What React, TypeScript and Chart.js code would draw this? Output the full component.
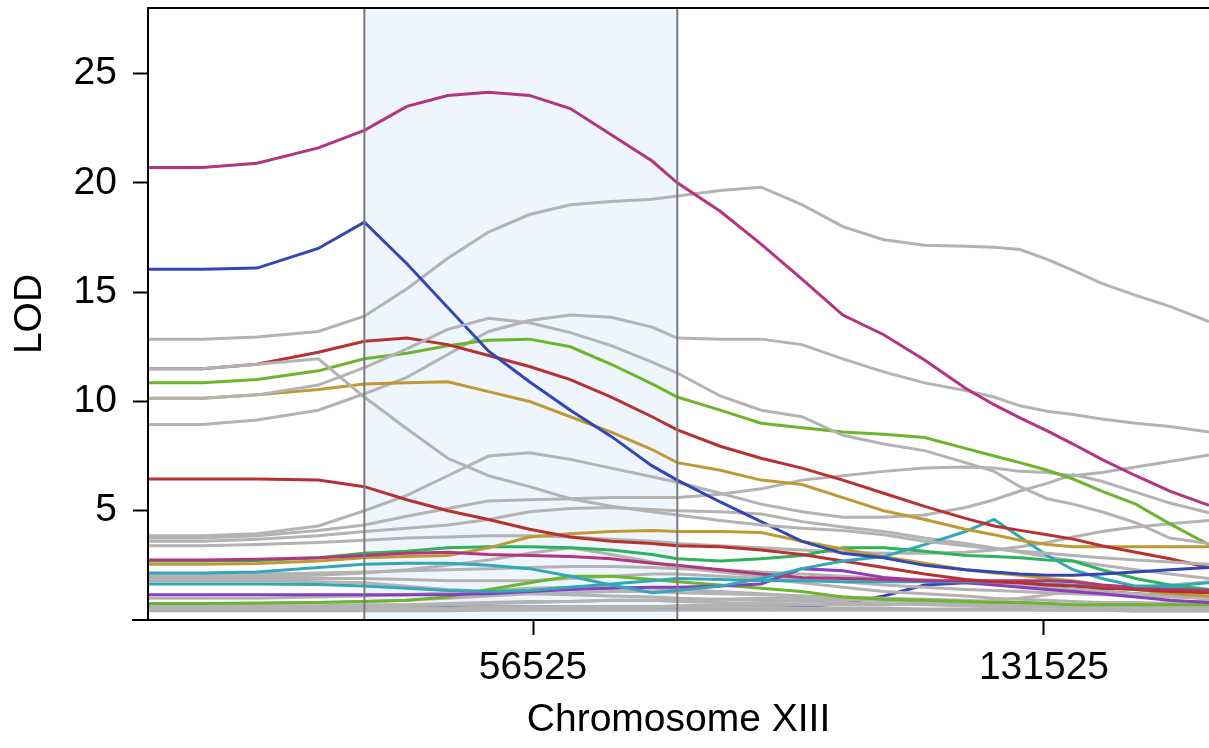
import React, { useEffect, useRef } from "react";
import { Chart, registerables } from "chart.js";

Chart.register(...registerables);

// ---- axis / layout data ----
const xMin = 0;
const xMax = 155750;
const yMin = 0;
const yMax = 28;
const xTicks = [56525, 131525];
const yTicks = [5, 10, 15, 20, 25];
const xLabel = "Chromosome XIII";
const yLabel = "LOD";
const shadeStart = 31760;
const shadeEnd = 77700;

// ---- marker positions (bp) ----
const positions = [0, 8000, 16000, 25000, 31760, 38000, 44000, 50000, 56000, 62000, 68000, 74000, 77700, 84000, 90000, 96000, 102000, 108000, 114000, 120000, 124200, 128000, 132000, 135800, 140000, 145000, 150000, 155750];

// ---- coloured LOD curves ----
const magentaHigh = [20.7, 20.7, 20.9, 21.6, 22.4, 23.5, 24.0, 24.15, 24.0, 23.4, 22.2, 21.0, 20.0, 18.7, 17.2, 15.6, 13.95, 13.05, 11.9, 10.6, 9.85, 9.25, 8.65, 8.05, 7.35, 6.6, 5.9, 5.25];
const blueHigh = [16.05, 16.05, 16.1, 17.0, 18.2, 16.3, 14.3, 12.3, 10.9, 9.6, 8.4, 7.05, 6.4, 5.4, 4.5, 3.6, 3.05, 2.85, 2.5, 2.3, 2.2, 2.1, 2.05, 2.05, 2.1, 2.2, 2.3, 2.4];
const redHigh = [11.5, 11.5, 11.7, 12.25, 12.75, 12.9, 12.6, 12.1, 11.6, 11.0, 10.2, 9.3, 8.7, 7.95, 7.4, 6.95, 6.4, 5.8, 5.2, 4.65, 4.3, 4.1, 3.9, 3.7, 3.4, 3.1, 2.8, 2.4];
const limeHigh = [10.85, 10.85, 11.0, 11.4, 11.95, 12.2, 12.55, 12.8, 12.85, 12.5, 11.7, 10.8, 10.2, 9.6, 9.0, 8.8, 8.6, 8.5, 8.35, 7.85, 7.5, 7.2, 6.85, 6.45, 5.9, 5.3, 4.4, 3.45];
const goldHigh = [10.15, 10.15, 10.3, 10.55, 10.8, 10.85, 10.9, 10.45, 10.0, 9.3, 8.6, 7.8, 7.2, 6.85, 6.4, 6.2, 5.6, 5.0, 4.6, 4.15, 3.9, 3.65, 3.45, 3.35, 3.35, 3.35, 3.35, 3.35];
const redLow = [6.45, 6.45, 6.45, 6.4, 6.1, 5.5, 5.0, 4.6, 4.15, 3.8, 3.6, 3.5, 3.4, 3.35, 3.2, 3.0, 2.7, 2.4, 2.1, 1.85, 1.75, 1.7, 1.6, 1.55, 1.45, 1.4, 1.3, 1.25];
const magentaLow = [2.75, 2.75, 2.78, 2.85, 2.95, 3.05, 3.1, 3.0, 2.95, 2.9, 2.8, 2.6, 2.5, 2.3, 2.1, 1.95, 1.9, 1.85, 1.8, 1.8, 1.8, 1.8, 1.8, 1.75, 1.6, 1.5, 1.4, 1.35];
const goldLow = [2.55, 2.55, 2.58, 2.7, 2.85, 2.9, 2.95, 3.3, 3.8, 3.95, 4.05, 4.1, 4.05, 4.05, 4.0, 3.6, 3.25, 2.9, 2.6, 2.3, 2.15, 2.05, 1.9, 1.8, 1.6, 1.4, 1.2, 1.1];
const emerald = [2.7, 2.7, 2.72, 2.85, 3.05, 3.15, 3.3, 3.35, 3.35, 3.3, 3.2, 3.0, 2.8, 2.7, 2.8, 2.95, 3.3, 3.3, 3.15, 2.95, 2.9, 2.85, 2.75, 2.7, 2.3, 1.9, 1.6, 1.4];
const tealHigh = [2.15, 2.15, 2.2, 2.4, 2.55, 2.6, 2.6, 2.5, 2.35, 2.0, 1.6, 1.25, 1.35, 1.55, 1.9, 2.35, 2.7, 2.9, 3.45, 4.05, 4.6, 3.8, 2.95, 2.3, 1.9, 1.55, 1.55, 1.7];
const tealLow = [1.65, 1.65, 1.65, 1.62, 1.55, 1.45, 1.35, 1.3, 1.35, 1.5, 1.65, 1.8, 1.9, 1.85, 1.8, 1.8, 1.75, 1.75, 1.75, 1.75, 1.75, 1.7, 1.65, 1.6, 1.55, 1.5, 1.45, 1.4];
const purple = [1.15, 1.15, 1.15, 1.15, 1.15, 1.15, 1.15, 1.2, 1.3, 1.4, 1.45, 1.5, 1.5, 1.55, 1.65, 2.35, 2.25, 1.95, 1.8, 1.7, 1.6, 1.5, 1.4, 1.3, 1.2, 1.05, 0.9, 0.8];
const limeLow = [0.75, 0.75, 0.78, 0.8, 0.85, 0.9, 1.05, 1.4, 1.7, 2.0, 2.0, 1.85, 1.75, 1.6, 1.45, 1.3, 1.05, 0.95, 0.9, 0.85, 0.8, 0.8, 0.75, 0.7, 0.7, 0.7, 0.7, 0.7];
const blueLow = [0.6, 0.6, 0.6, 0.6, 0.6, 0.6, 0.6, 0.6, 0.6, 0.6, 0.6, 0.6, 0.6, 0.6, 0.6, 0.6, 0.75, 1.1, 1.6, 1.7, 1.7, 1.6, 1.5, 1.4, 1.3, 1.2, 1.1, 1.0];

// ---- grey (non-highlighted) LOD curves ----
const grayA = [12.85, 12.85, 12.95, 13.2, 13.9, 15.15, 16.55, 17.75, 18.55, 19.0, 19.15, 19.25, 19.4, 19.65, 19.8, 19.0, 18.0, 17.4, 17.15, 17.1, 17.05, 16.95, 16.5, 16.0, 15.4, 14.85, 14.35, 13.65];
const grayB = [11.5, 11.5, 11.7, 11.95, 10.2, 8.75, 7.4, 6.6, 6.1, 5.55, 5.2, 4.95, 4.8, 4.55, 4.35, 4.2, 4.1, 3.9, 3.6, 3.4, 3.25, 3.15, 3.05, 2.95, 2.85, 2.75, 2.65, 2.55];
const grayC = [10.15, 10.15, 10.3, 10.75, 11.55, 12.4, 13.3, 13.8, 13.6, 13.15, 12.55, 11.8, 11.3, 10.25, 9.6, 9.3, 8.45, 8.05, 7.75, 7.2, 6.8, 6.1, 5.55, 5.3, 4.95, 4.45, 3.75, 3.5];
const grayD = [8.95, 8.95, 9.15, 9.6, 10.35, 11.1, 12.15, 13.2, 13.7, 13.95, 13.85, 13.4, 12.9, 12.85, 12.85, 12.6, 11.95, 11.35, 10.85, 10.5, 10.2, 9.8, 9.55, 9.4, 9.2, 9.0, 8.85, 8.6];
const grayE = [3.85, 3.85, 3.95, 4.3, 5.0, 5.7, 6.6, 7.5, 7.65, 7.35, 6.95, 6.55, 6.3, 5.8, 5.3, 4.95, 4.7, 4.7, 4.8, 5.15, 5.5, 5.9, 6.25, 6.65, 6.35, 5.85, 5.35, 4.9];
const grayF = [3.75, 3.75, 3.85, 4.1, 4.35, 4.75, 5.1, 5.45, 5.5, 5.55, 5.6, 5.6, 5.6, 5.75, 6.0, 6.4, 6.6, 6.8, 6.95, 7.0, 6.95, 6.8, 6.75, 6.6, 6.75, 7.0, 7.25, 7.55];
const grayG = [3.4, 3.4, 3.45, 3.55, 3.65, 3.75, 3.8, 3.85, 3.85, 3.8, 3.7, 3.6, 3.5, 3.4, 3.3, 3.2, 3.1, 3.05, 3.05, 3.1, 3.2, 3.35, 3.55, 3.8, 4.05, 4.25, 4.4, 4.55];
const grayH = [3.6, 3.6, 3.7, 3.85, 4.05, 4.2, 4.35, 4.6, 4.95, 5.1, 5.15, 5.05, 5.0, 4.95, 4.85, 4.5, 4.25, 4.05, 3.75, 3.5, 3.3, 3.1, 2.9, 2.7, 2.5, 2.3, 2.1, 1.9];
const grayI = [2.0, 2.0, 2.0, 2.05, 2.15, 2.3, 2.5, 2.75, 3.05, 3.3, 3.0, 2.65, 2.4, 2.2, 2.0, 1.85, 1.75, 1.6, 1.5, 1.4, 1.35, 1.3, 1.25, 1.2, 1.15, 1.1, 1.05, 1.0];
const grayJ = [2.1, 2.1, 2.1, 2.15, 2.2, 2.25, 2.3, 2.35, 2.4, 2.45, 2.45, 2.4, 2.35, 2.3, 2.2, 2.1, 2.0, 1.9, 1.85, 1.75, 1.65, 1.6, 1.5, 1.4, 1.3, 1.2, 1.1, 1.0];
const grayK = [1.9, 1.9, 1.9, 1.9, 1.9, 1.85, 1.8, 1.8, 1.8, 1.9, 2.0, 2.1, 2.1, 2.0, 1.9, 1.7, 1.5, 1.3, 1.2, 1.1, 1.0, 0.95, 0.9, 0.85, 0.8, 0.8, 0.75, 0.75];
const grayL = [1.8, 1.8, 1.8, 1.75, 1.7, 1.55, 1.4, 1.3, 1.2, 1.15, 1.1, 1.05, 1.0, 0.95, 0.9, 0.85, 0.8, 0.75, 0.7, 0.65, 0.6, 0.6, 0.6, 0.55, 0.55, 0.5, 0.5, 0.5];
const grayM = [0.75, 0.75, 0.75, 0.8, 0.85, 0.9, 1.0, 1.1, 1.2, 1.25, 1.3, 1.3, 1.25, 1.2, 1.15, 1.1, 1.05, 1.0, 0.95, 0.9, 0.85, 0.8, 0.75, 0.7, 0.7, 0.65, 0.65, 0.6];
const grayN = [0.6, 0.6, 0.6, 0.6, 0.6, 0.65, 0.7, 0.75, 0.8, 0.85, 0.9, 0.9, 0.9, 0.95, 1.0, 1.0, 0.95, 0.9, 0.85, 0.8, 0.75, 0.7, 0.65, 0.6, 0.55, 0.5, 0.5, 0.45];
const grayO = [0.5, 0.5, 0.5, 0.5, 0.5, 0.5, 0.5, 0.55, 0.55, 0.6, 0.6, 0.6, 0.65, 0.7, 0.8, 0.9, 0.95, 0.9, 0.8, 0.7, 0.65, 0.6, 0.6, 0.6, 0.65, 0.7, 0.8, 0.9];
const grayP = [0.42, 0.42, 0.42, 0.42, 0.42, 0.42, 0.42, 0.45, 0.45, 0.45, 0.45, 0.45, 0.45, 0.45, 0.45, 0.45, 0.45, 0.45, 0.45, 0.45, 0.45, 0.45, 0.45, 0.45, 0.45, 0.45, 0.45, 0.45];
const grayQ = [0.65, 0.65, 0.65, 0.65, 0.7, 0.7, 0.75, 0.8, 0.85, 0.85, 0.9, 0.9, 0.85, 0.8, 0.75, 0.7, 0.7, 0.7, 0.75, 0.8, 0.9, 1.0, 1.15, 1.3, 1.4, 1.5, 1.6, 1.75];
const grayR = [1.0, 1.0, 1.0, 1.05, 1.1, 1.15, 1.25, 1.35, 1.45, 1.5, 1.5, 1.45, 1.4, 1.3, 1.2, 1.1, 1.0, 0.95, 0.9, 0.85, 0.8, 0.75, 0.7, 0.65, 0.6, 0.6, 0.55, 0.55];
const grayS = [0.55, 0.55, 0.55, 0.55, 0.55, 0.55, 0.55, 0.6, 0.6, 0.6, 0.6, 0.6, 0.6, 0.6, 0.6, 0.55, 0.55, 0.55, 0.5, 0.5, 0.5, 0.5, 0.45, 0.45, 0.45, 0.4, 0.4, 0.4];

// ---- styles ----
const GREY = "#B3B3B3";
const FONT = "'Liberation Sans', Arial, Helvetica, sans-serif";
const FONT_SIZE = 39;
const LINE_W = 3;

type Series = { label: string; values: number[]; color: string; order: number };

const seriesList: Series[] = [
  { label: "grayB", values: grayB, color: GREY, order: 0 },
  { label: "grayC", values: grayC, color: GREY, order: 0 },
  { label: "magentaHigh", values: magentaHigh, color: "#B3357F", order: 1 },
  { label: "blueHigh", values: blueHigh, color: "#3446B4", order: 1 },
  { label: "redHigh", values: redHigh, color: "#B73131", order: 1 },
  { label: "limeHigh", values: limeHigh, color: "#6CB52D", order: 1 },
  { label: "goldHigh", values: goldHigh, color: "#BE9A35", order: 1 },
  { label: "tealHigh", values: tealHigh, color: "#31A7B7", order: 1 },
  { label: "redLow", values: redLow, color: "#B73131", order: 1 },
  { label: "magentaLow", values: magentaLow, color: "#B3357F", order: 1 },
  { label: "goldLow", values: goldLow, color: "#BE9A35", order: 1 },
  { label: "emerald", values: emerald, color: "#2FB25C", order: 1 },
  { label: "tealLow", values: tealLow, color: "#31A7B7", order: 1 },
  { label: "purple", values: purple, color: "#8A3DBD", order: 1 },
  { label: "limeLow", values: limeLow, color: "#6CB52D", order: 1 },
  { label: "grayA", values: grayA, color: GREY, order: 2 },
  { label: "grayD", values: grayD, color: GREY, order: 2 },
  { label: "grayE", values: grayE, color: GREY, order: 2 },
  { label: "grayF", values: grayF, color: GREY, order: 2 },
  { label: "grayG", values: grayG, color: GREY, order: 2 },
  { label: "grayH", values: grayH, color: GREY, order: 2 },
  { label: "grayI", values: grayI, color: GREY, order: 2 },
  { label: "grayJ", values: grayJ, color: GREY, order: 2 },
  { label: "grayK", values: grayK, color: GREY, order: 2 },
  { label: "grayL", values: grayL, color: GREY, order: 2 },
  { label: "grayM", values: grayM, color: GREY, order: 2 },
  { label: "grayN", values: grayN, color: GREY, order: 2 },
  { label: "grayO", values: grayO, color: GREY, order: 2 },
  { label: "grayP", values: grayP, color: GREY, order: 2 },
  { label: "grayQ", values: grayQ, color: GREY, order: 2 },
  { label: "grayR", values: grayR, color: GREY, order: 2 },
  { label: "grayS", values: grayS, color: GREY, order: 2 },
  { label: "blueLow", values: blueLow, color: "#3446B4", order: 3 },
];

const framePlugin = {
  id: "qtlFrame",
  beforeDatasetsDraw(chart: any) {
    const { ctx, chartArea, scales } = chart;
    const x1 = scales.x.getPixelForValue(shadeStart);
    const x2 = scales.x.getPixelForValue(shadeEnd);
    ctx.save();
    ctx.fillStyle = "#EEF5FD";
    ctx.fillRect(x1, chartArea.top, x2 - x1, chartArea.bottom - chartArea.top);
    ctx.restore();
  },
  afterDatasetsDraw(chart: any) {
    const { ctx, chartArea, scales } = chart;
    const x1 = scales.x.getPixelForValue(shadeStart);
    const x2 = scales.x.getPixelForValue(shadeEnd);
    ctx.save();
    ctx.strokeStyle = "#7A7A7A";
    ctx.lineWidth = 2;
    ctx.beginPath();
    ctx.moveTo(x1, chartArea.top);
    ctx.lineTo(x1, chartArea.bottom);
    ctx.moveTo(x2, chartArea.top);
    ctx.lineTo(x2, chartArea.bottom);
    ctx.stroke();
    // frame
    ctx.strokeStyle = "#000";
    ctx.lineWidth = 2;
    ctx.beginPath();
    ctx.moveTo(chartArea.left - 16, chartArea.bottom);
    ctx.lineTo(chartArea.right, chartArea.bottom);
    ctx.moveTo(chartArea.left, chartArea.bottom);
    ctx.lineTo(chartArea.left, chartArea.top);
    ctx.lineTo(chartArea.right, chartArea.top);
    ctx.stroke();
    ctx.restore();
  },
};

export default function App() {
  const ref = useRef<HTMLCanvasElement | null>(null);

  useEffect(() => {
    if (!ref.current) return;
    const tickFont = { family: FONT, size: FONT_SIZE };
    const chart = new Chart(ref.current, {
      type: "line",
      data: {
        datasets: seriesList.map((s) => ({
          label: s.label,
          data: positions.map((x, i) => ({ x, y: s.values[i] })),
          borderColor: s.color,
          backgroundColor: s.color,
          borderWidth: LINE_W,
          pointRadius: 0,
          tension: 0,
          fill: false,
          order: s.order,
        })),
      },
      options: {
        animation: false,
        responsive: false,
        devicePixelRatio: 1,
        layout: { padding: { top: 8, left: 0, right: 0, bottom: 0 } },
        plugins: { legend: { display: false }, tooltip: { enabled: false } },
        scales: {
          x: {
            type: "linear",
            min: xMin,
            max: xMax,
            afterBuildTicks: (scale: any) => {
              scale.ticks = xTicks.map((v) => ({ value: v }));
            },
            afterFit: (scale: any) => {
              scale.height = 128;
              scale.paddingLeft = 0;
              scale.paddingRight = 0;
            },
            grid: { drawOnChartArea: false, drawTicks: true, tickLength: 15, tickWidth: 2, tickColor: "#000" },
            border: { display: false },
            ticks: {
              font: tickFont,
              color: "#000",
              padding: 10,
              maxRotation: 0,
              autoSkip: false,
              callback: (v: any) => String(v),
            },
            title: { display: true, text: xLabel, font: tickFont, color: "#000", padding: { top: 0, bottom: 4 } },
          },
          y: {
            type: "linear",
            min: yMin,
            max: yMax,
            afterBuildTicks: (scale: any) => {
              scale.ticks = yTicks.map((v) => ({ value: v }));
            },
            afterFit: (scale: any) => {
              scale.width = 148;
              scale.paddingTop = 0;
              scale.paddingBottom = 0;
            },
            grid: { drawOnChartArea: false, drawTicks: true, tickLength: 15, tickWidth: 2, tickColor: "#000" },
            border: { display: false },
            ticks: {
              font: tickFont,
              color: "#000",
              padding: 16,
              autoSkip: false,
              callback: (v: any) => String(v),
            },
            title: { display: true, text: yLabel, font: tickFont, color: "#000", padding: { top: 7, bottom: 0 } },
          },
        },
      },
      plugins: [framePlugin],
    } as any);
    return () => chart.destroy();
  }, []);

  return (
    <div style={{ position: "fixed", left: 0, top: 0, width: 1209, height: 748, background: "#fff" }}>
      <canvas ref={ref} width={1209} height={748} style={{ display: "block" }} />
    </div>
  );
}
